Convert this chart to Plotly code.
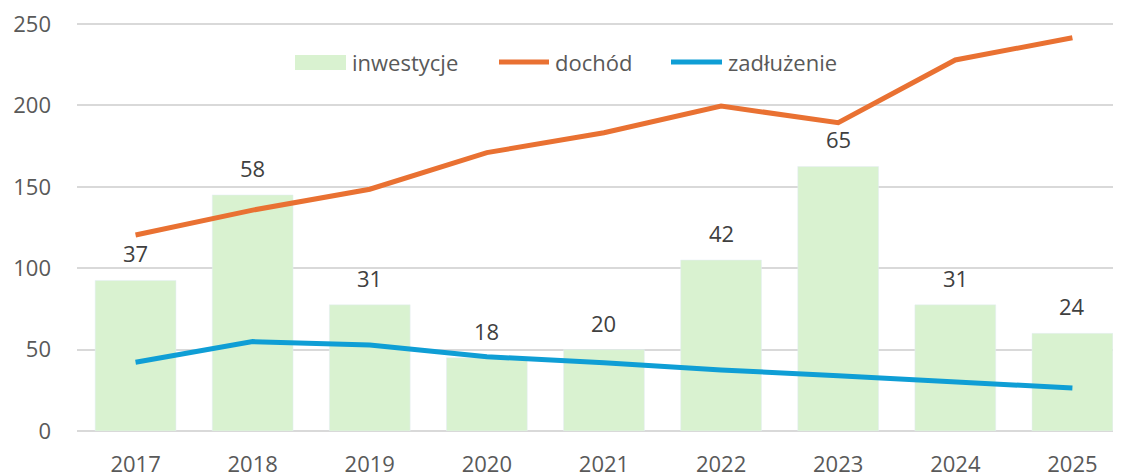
import plotly.graph_objects as go

years = ["2017", "2018", "2019", "2020", "2021", "2022", "2023", "2024", "2025"]
inwestycje = [37, 58, 31, 18, 20, 42, 65, 31, 24]
dochod = [120.4, 135.7, 148.5, 171, 183.2, 199.6, 189.4, 227.9, 241.6]
zadluzenie = [42.2, 54.9, 52.8, 45.6, 42.0, 37.5, 34.0, 30.3, 26.4]
y_ticks = [0, 50, 100, 150, 200, 250]
series_names = ["inwestycje", "dochód", "zadłużenie"]
series_colors = ["#D9F2D0", "#E97132", "#0F9ED5"]

FONT = "Open Sans"
OFF = 8  # page body margin
W, H = 1121 - OFF, 475 - OFF
L, R, T, B = 77 - OFF, 0, 23 - OFF, 44
PW, PH = W - L - R, H - T - B
EXT = 1.0025  # tiny headroom so the top gridline/tick is kept


def px(xp):  # page pixel -> paper
    return (xp - OFF - L) / PW


def py(yp):
    return (H - B - (yp - OFF)) / PH


fig = go.Figure()
fig.add_trace(go.Bar(
    x=list(range(len(years))), y=inwestycje, name=series_names[0],
    marker_color=series_colors[0], width=0.69, yaxis="y", hoverinfo="skip",
))
fig.add_trace(go.Scatter(
    x=list(range(len(years))), y=dochod, name=series_names[1], mode="lines",
    line=dict(color=series_colors[1], width=5), yaxis="y2",
))
fig.add_trace(go.Scatter(
    x=list(range(len(years))), y=zadluzenie, name=series_names[2], mode="lines",
    line=dict(color=series_colors[2], width=5), yaxis="y2",
))

for i, v in enumerate(inwestycje):
    fig.add_annotation(x=i, y=v, xref="x", yref="y", text=str(v),
                       showarrow=False, yanchor="bottom", yshift=10,
                       font=dict(family=FONT, size=22, color="#404040"))

# custom legend (wide swatches like the reference)
leg_y = 62
fig.add_shape(type="rect", xref="paper", yref="paper",
              x0=px(295), x1=px(346), y0=py(70), y1=py(55),
              fillcolor=series_colors[0], line=dict(width=0), layer="above")
fig.add_shape(type="line", xref="paper", yref="paper",
              x0=px(499), x1=px(549), y0=py(leg_y), y1=py(leg_y),
              line=dict(color=series_colors[1], width=5), layer="above")
fig.add_shape(type="line", xref="paper", yref="paper",
              x0=px(671), x1=px(722), y0=py(leg_y), y1=py(leg_y),
              line=dict(color=series_colors[2], width=5), layer="above")
for name, xs in zip(series_names, [350, 553, 726]):
    fig.add_annotation(x=px(xs), y=py(leg_y), xref="paper", yref="paper",
                       text=name, showarrow=False, xanchor="left", yanchor="middle",
                       font=dict(family=FONT, size=22, color="#595959"))

fig.update_layout(
    width=W, height=H,
    margin=dict(l=L, r=R, t=T, b=B),
    paper_bgcolor="white", plot_bgcolor="white",
    font=dict(family=FONT, size=22, color="#595959"),
    showlegend=False,
    xaxis=dict(range=[-0.5, 8.415], tickmode="array",
               tickvals=list(range(len(years))), ticktext=years,
               showgrid=False, showline=False, zeroline=False, ticks="",
               ticklabelstandoff=18, automargin=False, ticklabeloverflow="allow",
               tickfont=dict(family=FONT, size=22, color="#595959")),
    yaxis=dict(range=[0, 100 * EXT], tickmode="array",
               tickvals=[0, 20, 40, 60, 80, 100], showgrid=True,
               gridcolor="#D9D9D9", gridwidth=1.5, zeroline=True,
               zerolinecolor="#D9D9D9", zerolinewidth=1.5,
               showticklabels=False, ticks="", automargin=False),
    yaxis2=dict(range=[0, 250 * EXT], tickvals=y_ticks, overlaying="y", side="left",
                showgrid=False, zeroline=False, ticks="", ticklabelstandoff=25,
                automargin=False, ticklabeloverflow="allow",
                tickfont=dict(family=FONT, size=22, color="#595959")),
)
fig.write_html("out.html")
